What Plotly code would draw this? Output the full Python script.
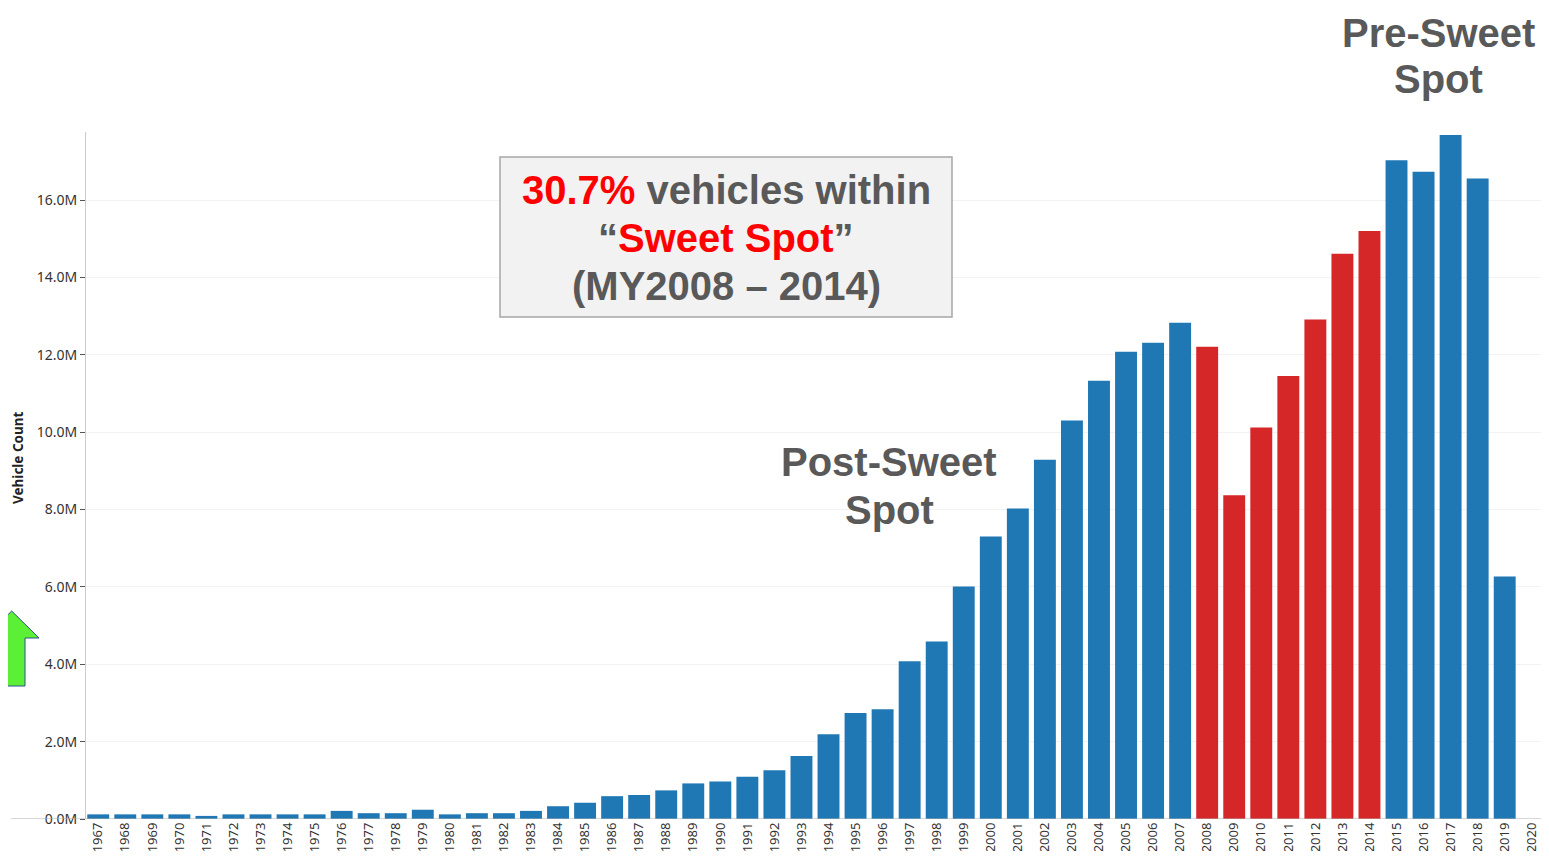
import plotly.graph_objects as go

# model years and vehicle counts (millions)
years = list(range(1967, 2021))
counts_m = [0.12, 0.12, 0.12, 0.12, 0.08, 0.12, 0.12, 0.12, 0.12, 0.21,
            0.15, 0.15, 0.24, 0.12, 0.15, 0.15, 0.21, 0.33, 0.42, 0.59,
            0.62, 0.74, 0.92, 0.97, 1.09, 1.26, 1.63, 2.19, 2.74, 2.84,
            4.08, 4.59, 6.01, 7.30, 8.03, 9.29, 10.30, 11.33, 12.08, 12.31,
            12.83, 12.21, 8.37, 10.12, 11.45, 12.91, 14.61, 15.20, 17.03, 16.73,
            17.68, 16.56, 6.27, None]
sweet_spot = list(range(2008, 2015))

ytick_vals = [0, 2, 4, 6, 8, 10, 12, 14, 16]
ytick_text = ["0.0M", "2.0M", "4.0M", "6.0M", "8.0M", "10.0M", "12.0M", "14.0M", "16.0M"]

BLUE = "#1f77b4"
RED = "#d62728"
GREY_TXT = "#595959"

# the page has an 8px body margin, so the figure is shifted by 8px
OFF = 8
W, H = 1549 - 2 * OFF, 859 - 2 * OFF
L, R, T, B = 78, 0, 124, 32
pw, ph = W - L - R, H - T - B


def px(x):  # page pixel -> paper x
    return (x - OFF - L) / pw


def py(y):  # page pixel -> paper y
    return (H - B - (y - OFF)) / ph


colors = [RED if y in sweet_spot else BLUE for y in years]
vals = [None if v is None else v * 1e6 for v in counts_m]

fig = go.Figure()
fig.add_trace(go.Bar(x=years, y=vals, marker=dict(color=colors, line=dict(width=0)),
                     width=0.81, showlegend=False))

fig.update_layout(
    width=W, height=H,
    margin=dict(l=L, r=R, t=T, b=B),
    plot_bgcolor="white", paper_bgcolor="white",
    font=dict(family="Noto Sans, DejaVu Sans, sans-serif", color="#333333"),
    xaxis=dict(
        range=[years[0] - 0.452, years[-1] + 0.342],
        tickmode="array", tickvals=years, ticktext=[str(y) for y in years],
        tickangle=-90, tickfont=dict(size=13, color="#333333"),
        showgrid=False, showline=False, ticks="", zeroline=False,
    ),
    yaxis=dict(
        range=[0, 17.76e6],
        tickmode="array", tickvals=[v * 1e6 for v in ytick_vals], ticktext=ytick_text,
        tickfont=dict(size=14, color="#333333"),
        ticks="outside", ticklen=5, tickcolor="#555555",
        showgrid=True, gridcolor="#f2f2f2", gridwidth=1,
        showline=True, linecolor="#cccccc", linewidth=1,
        zeroline=False,
    ),
)

# baseline extending past the axis, like the original
fig.add_shape(type="line", xref="paper", yref="y", x0=px(11), x1=1, y0=0, y1=0,
              line=dict(color="#b0b0b0", width=1))

# green up arrow at the left edge
arrow = [(11.7, 611), (39, 638), (25, 638), (25, 686), (-1.6, 686), (-1.6, 638), (-15.6, 638)]
path = "M " + " L ".join(f"{px(a)},{py(b)}" for a, b in arrow) + " Z"
fig.add_shape(type="path", xref="paper", yref="paper", path=path,
              fillcolor="#5bef36", line=dict(color="#2f528f", width=1), layer="above")

# y axis title
fig.add_annotation(text="<b>Vehicle Count</b>", xref="paper", yref="paper",
                   x=px(18), y=py(458), xanchor="center", yanchor="middle",
                   textangle=-90, showarrow=False,
                   font=dict(size=13.5, color="#222222", family="Noto Sans, sans-serif"))

big = dict(family="Liberation Sans, Arial, sans-serif", size=40, color=GREY_TXT)


def line(text, xc, yc):
    fig.add_annotation(text=text, xref="paper", yref="paper", x=px(xc), y=py(yc),
                       xanchor="center", yanchor="middle", showarrow=False,
                       font=big, align="center", borderpad=0)


# callout box
fig.add_shape(type="rect", xref="paper", yref="paper",
              x0=px(500), x1=px(952), y0=py(317), y1=py(157),
              fillcolor="#f2f2f2", line=dict(color="#a6a6a6", width=1.5), layer="above")
line("<b><span style='color:#ff0000'>30.7%</span> vehicles within</b>", 726, 190)
line("<b>“<span style='color:#ff0000'>Sweet Spot</span>”</b>", 726, 238)
line("<b>(MY2008 – 2014)</b>", 726, 286)

line("<b>Post-Sweet</b>", 889, 462)
line("<b>Spot</b>", 889, 510)

line("<b>Pre-Sweet</b>", 1438, 33)
line("<b>Spot</b>", 1438, 79)

fig.write_html("out.html")
